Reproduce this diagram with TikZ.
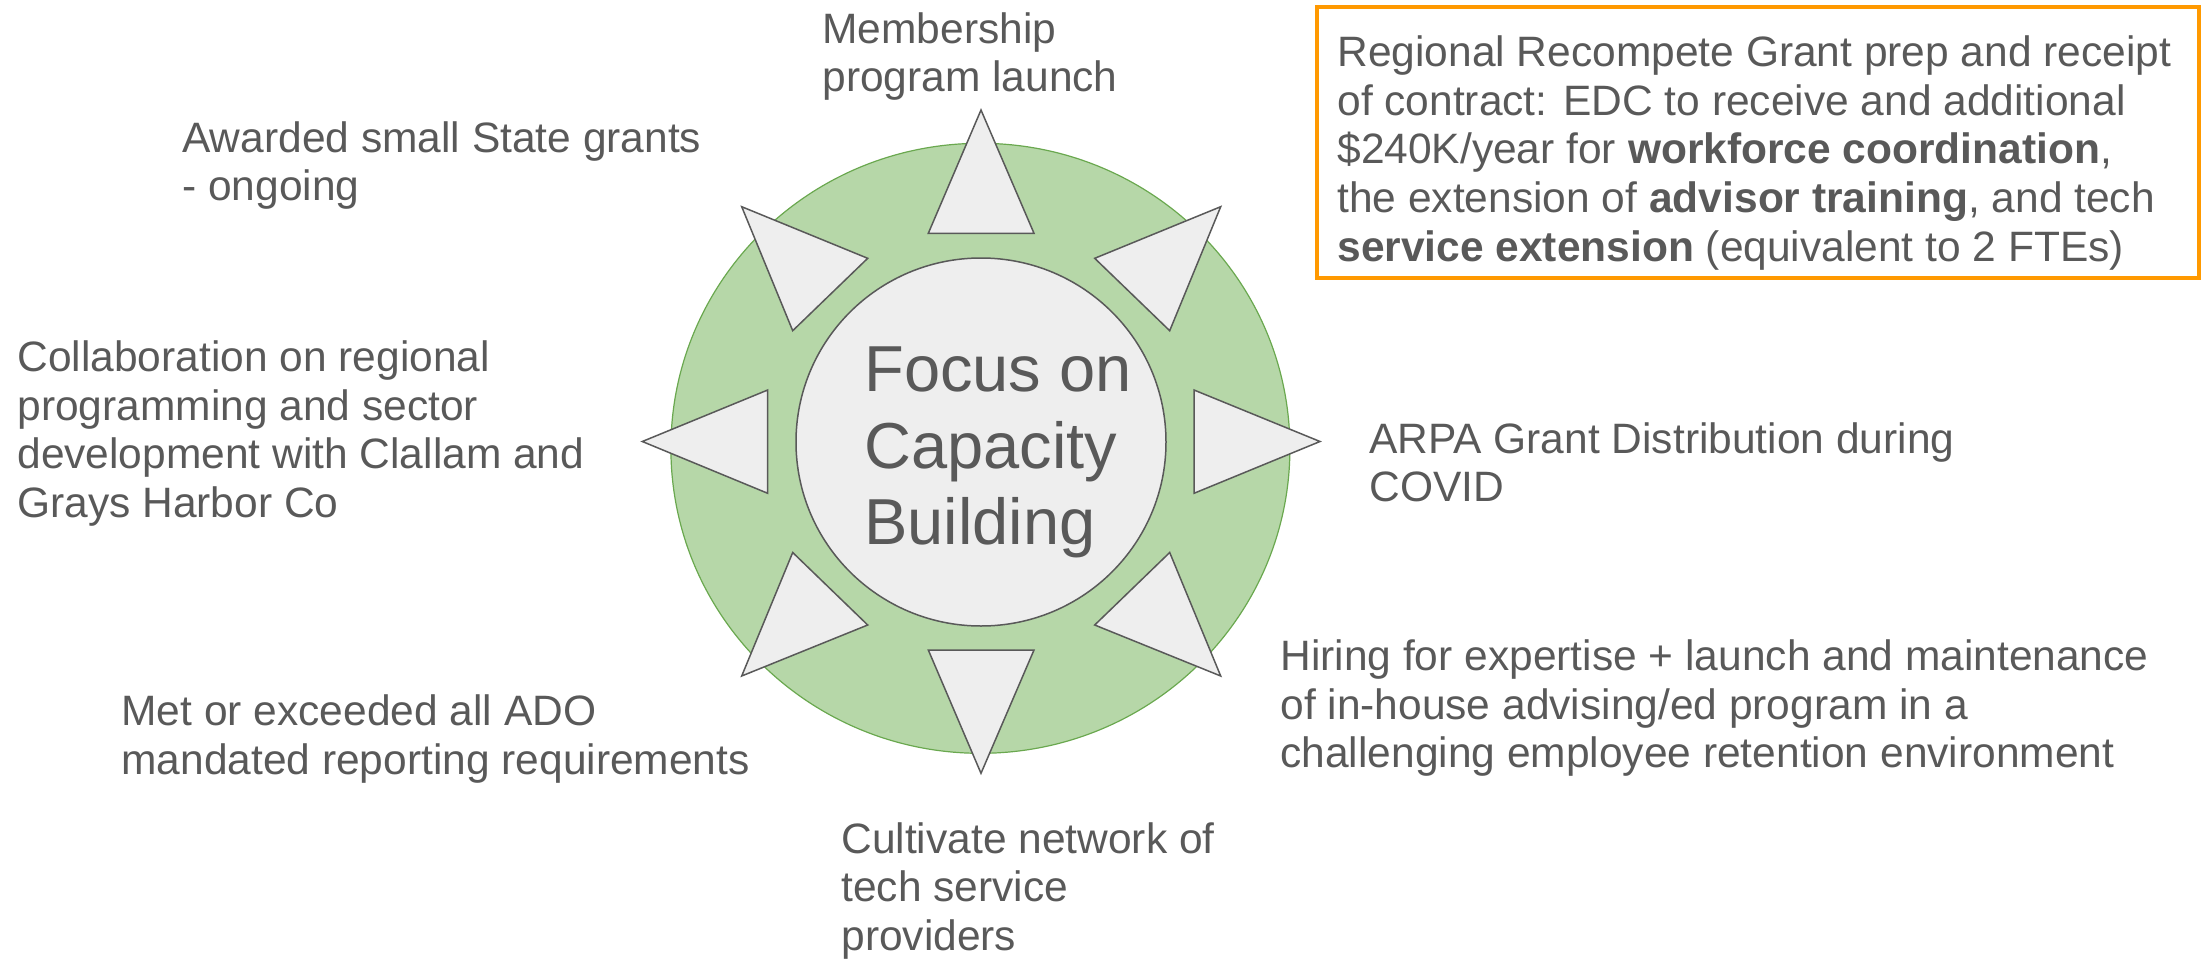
\documentclass[tikz,border=0pt]{standalone}
\usepackage{fontspec}
\setmainfont{Liberation Sans}
\definecolor{txt}{HTML}{595959}
\definecolor{greenfill}{HTML}{B6D7A8}
\definecolor{greenline}{HTML}{6AA84F}
\definecolor{shapefill}{HTML}{EEEEEE}
\definecolor{shapeline}{HTML}{595959}
\definecolor{orangeline}{HTML}{FF9900}
\begin{document}
\begin{tikzpicture}[x=0.5pt,y=-0.5pt,
  lbl/.style={anchor=north west, inner sep=0pt, align=left, text=txt,
    font=\fontsize{21.25pt}{24.3pt}\selectfont},
  ray/.style={fill=shapefill, draw=shapeline, line width=0.75pt, line join=miter},
]
\useasboundingbox (0,0) rectangle (2202,959);
% outer green disc
\filldraw[fill=greenfill, draw=greenline, line width=0.6pt]
  (980.4,448.3) ellipse [x radius=309.5, y radius=305];
% rays
\filldraw[ray] (981,110) -- (1034,233.3) -- (928.3,233.3) -- cycle;
\filldraw[ray] (981,773.3) -- (1034,650) -- (928.3,650) -- cycle;
\filldraw[ray] (642.3,441.5) -- (767.7,390) -- (767.7,493.3) -- cycle;
\filldraw[ray] (1320,441.5) -- (1194,390) -- (1194,493.3) -- cycle;
\filldraw[ray] (741.7,206.7) -- (867.7,258.3) -- (792.7,330.7) -- cycle;
\filldraw[ray] (1220.7,206.7) -- (1094.7,258.3) -- (1169.7,330.7) -- cycle;
\filldraw[ray] (741.7,676) -- (867.7,625) -- (792.7,552.5) -- cycle;
\filldraw[ray] (1220.7,676) -- (1094.7,625) -- (1169.7,552.5) -- cycle;
% inner disc
\filldraw[fill=shapefill, draw=shapeline, line width=0.75pt]
  (981,442) ellipse [x radius=185, y radius=184];
\node[anchor=north west, inner sep=0pt, align=left, text=txt,
  font=\fontsize{32.5pt}{38.2pt}\selectfont] (focus) at (864,346.5)
  {Focus on\\Capacity\\Building};
% labels
\node[lbl] (membership) at (822,12) {Membership\\program launch};
\node[lbl] (awarded) at (182,121) {Awarded small State grants\\- ongoing};
\node[lbl] (collab) at (17,340.5) {Collaboration on regional\\programming and sector\\development with Clallam and\\Grays Harbor Co};
\node[lbl] (arpa) at (1369,422) {ARPA Grant Distribution during\\COVID};
\node[lbl] (hiring) at (1280,639.5) {Hiring for expertise + launch and maintenance\\of in-house advising/ed program in a\\challenging employee retention environment};
\node[lbl] (met) at (121,694.5) {Met or exceeded all ADO\\mandated reporting requirements};
\node[lbl] (cultivate) at (841,822) {Cultivate network of\\tech service\\providers};
% orange box
\draw[orangeline, line width=2pt] (1317,7) rectangle (2199,278);
\node[lbl] (recompete) at (1337,35.5) {Regional Recompete Grant prep and receipt\\of contract: EDC to receive and additional\\\$240K/year for \textbf{workforce coordination},\\the extension of \textbf{advisor training}, and tech\\\textbf{service extension} (equivalent to 2 FTEs)};
\end{tikzpicture}
\end{document}
